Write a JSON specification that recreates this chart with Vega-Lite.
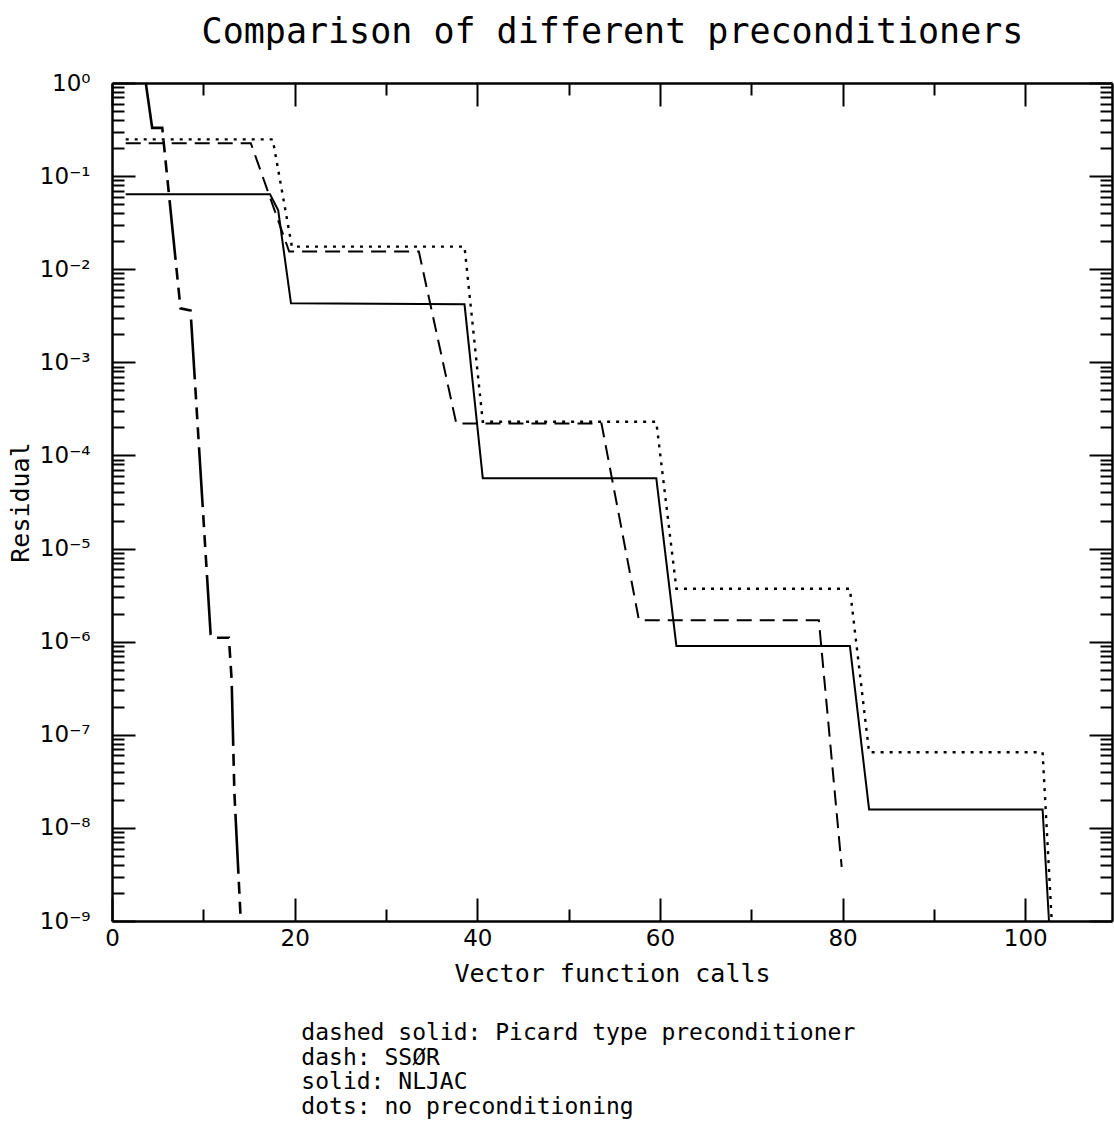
{
  "$schema": "https://vega.github.io/schema/vega-lite/v6.json",
  "autosize": {"type": "none"},
  "padding": {"left": 112, "top": 83, "right": 2, "bottom": 206},
  "width": 1000,
  "height": 838,
  "background": "white",
  "title": {
    "text": ["dashed solid: Picard type preconditioner", "dash: SSØR", "solid: NLJAC", "dots: no preconditioning"],
    "orient": "bottom",
    "anchor": "start",
    "align": "left",
    "dx": 293,
    "offset": 36,
    "font": "DejaVu Sans Mono",
    "fontSize": 23,
    "fontWeight": "normal",
    "lineHeight": 24.7,
    "color": "black"
  },
  "config": {
    "view": {"stroke": null},
    "axis": {
      "labelFont": "DejaVu Sans",
      "titleFont": "DejaVu Sans Mono",
      "labelColor": "black",
      "titleColor": "black",
      "domainColor": "black",
      "tickColor": "black",
      "domainWidth": 2.5,
      "tickWidth": 2,
      "grid": false,
      "labelOverlap": false,
      "labelFlush": false,
      "titleFontWeight": "normal"
    }
  },
  "data": {
    "values": [
      {"series": "Picard", "x": 3.7, "y": 1.0},
      {"series": "Picard", "x": 4.4, "y": 0.33},
      {"series": "Picard", "x": 5.5, "y": 0.33},
      {"series": "Picard", "x": 7.5, "y": 0.0038},
      {"series": "Picard", "x": 8.6, "y": 0.0036},
      {"series": "Picard", "x": 10.8, "y": 0.0000012},
      {"series": "Picard", "x": 11.0, "y": 0.0000011},
      {"series": "Picard", "x": 12.8, "y": 0.0000011},
      {"series": "Picard", "x": 13.1, "y": 0.00000039},
      {"series": "Picard", "x": 13.4, "y": 0.000000024},
      {"series": "Picard", "x": 14.1, "y": 0.000000001},

      {"series": "SSOR", "x": 1.5, "y": 0.226},
      {"series": "SSOR", "x": 15.2, "y": 0.226},
      {"series": "SSOR", "x": 19.4, "y": 0.0155},
      {"series": "SSOR", "x": 33.6, "y": 0.0155},
      {"series": "SSOR", "x": 37.7, "y": 0.00022},
      {"series": "SSOR", "x": 53.6, "y": 0.00022},
      {"series": "SSOR", "x": 57.7, "y": 0.0000017},
      {"series": "SSOR", "x": 77.4, "y": 0.0000017},
      {"series": "SSOR", "x": 79.9, "y": 0.0000000038},

      {"series": "NLJAC", "x": 1.5, "y": 0.064},
      {"series": "NLJAC", "x": 17.3, "y": 0.064},
      {"series": "NLJAC", "x": 18.2, "y": 0.043},
      {"series": "NLJAC", "x": 19.6, "y": 0.0043},
      {"series": "NLJAC", "x": 38.6, "y": 0.0042},
      {"series": "NLJAC", "x": 40.6, "y": 0.000057},
      {"series": "NLJAC", "x": 59.6, "y": 0.000057},
      {"series": "NLJAC", "x": 61.8, "y": 0.0000009},
      {"series": "NLJAC", "x": 80.8, "y": 0.0000009},
      {"series": "NLJAC", "x": 82.9, "y": 0.0000000158},
      {"series": "NLJAC", "x": 101.9, "y": 0.0000000158},
      {"series": "NLJAC", "x": 102.6, "y": 0.000000001},

      {"series": "None", "x": 1.5, "y": 0.248},
      {"series": "None", "x": 17.6, "y": 0.248},
      {"series": "None", "x": 19.7, "y": 0.0175},
      {"series": "None", "x": 38.6, "y": 0.0175},
      {"series": "None", "x": 40.6, "y": 0.00023},
      {"series": "None", "x": 59.6, "y": 0.00023},
      {"series": "None", "x": 61.8, "y": 0.0000037},
      {"series": "None", "x": 80.8, "y": 0.0000037},
      {"series": "None", "x": 82.9, "y": 0.000000065},
      {"series": "None", "x": 101.9, "y": 0.000000065},
      {"series": "None", "x": 102.9, "y": 0.000000001}
    ]
  },
  "resolve": {"scale": {"x": "shared", "y": "shared"}, "axis": {"x": "independent", "y": "independent"}},
  "layer": [
    {
      "transform": [{"filter": "datum.series === 'Picard'"}],
      "mark": {"type": "line", "color": "black", "strokeWidth": 2.6, "strokeDash": [60, 8, 12, 8, 12, 8, 12, 8], "clip": true},
      "encoding": {
        "x": {
          "field": "x", "type": "quantitative",
          "scale": {"domain": [0, 109.5], "nice": false, "zero": false},
          "axis": {
            "orient": "bottom",
            "values": [0, 10, 20, 30, 40, 50, 60, 70, 80, 90, 100],
            "labelExpr": "datum.value % 20 === 0 ? datum.label : ''",
            "tickSize": {"condition": {"test": "datum.value % 20 === 0", "value": -23}, "value": -12},
            "labelFontSize": 23,
            "labelPadding": 29,
            "title": "Vector function calls",
            "titleFontSize": 25,
            "titlePadding": 0
          }
        },
        "y": {
          "field": "y", "type": "quantitative",
          "scale": {"type": "log", "domain": [1e-9, 1], "nice": false},
          "axis": {
            "orient": "left",
            "values": [1e-9,2e-9,3e-9,4e-9,5e-9,6e-9,7e-9,8e-9,9e-9,
                       1e-8,2e-8,3e-8,4e-8,5e-8,6e-8,7e-8,8e-8,9e-8,
                       1e-7,2e-7,3e-7,4e-7,5e-7,6e-7,7e-7,8e-7,9e-7,
                       1e-6,2e-6,3e-6,4e-6,5e-6,6e-6,7e-6,8e-6,9e-6,
                       1e-5,2e-5,3e-5,4e-5,5e-5,6e-5,7e-5,8e-5,9e-5,
                       1e-4,2e-4,3e-4,4e-4,5e-4,6e-4,7e-4,8e-4,9e-4,
                       1e-3,2e-3,3e-3,4e-3,5e-3,6e-3,7e-3,8e-3,9e-3,
                       1e-2,2e-2,3e-2,4e-2,5e-2,6e-2,7e-2,8e-2,9e-2,
                       1e-1,2e-1,3e-1,4e-1,5e-1,6e-1,7e-1,8e-1,9e-1,1],
            "labelExpr": "abs(log(datum.value)/LN10 - round(log(datum.value)/LN10)) < 1e-6 ? '10' + ['⁰','⁻¹','⁻²','⁻³','⁻⁴','⁻⁵','⁻⁶','⁻⁷','⁻⁸','⁻⁹'][-round(log(datum.value)/LN10)] : ''",
            "tickSize": {"condition": {"test": "abs(log(datum.value)/LN10 - round(log(datum.value)/LN10)) < 1e-6", "value": -23}, "value": -12},
            "labelFontSize": 23,
            "labelPadding": 45,
            "title": "Residual",
            "titleFontSize": 25,
            "titlePadding": 6
          }
        }
      }
    },
    {
      "transform": [{"filter": "datum.series === 'SSOR'"}],
      "mark": {"type": "line", "color": "black", "strokeWidth": 2, "strokeDash": [15, 8], "clip": true},
      "encoding": {
        "x": {
          "field": "x", "type": "quantitative",
          "scale": {"domain": [0, 109.5], "nice": false, "zero": false},
          "axis": {
            "orient": "top",
            "values": [0, 10, 20, 30, 40, 50, 60, 70, 80, 90, 100],
            "labels": false,
            "tickSize": {"condition": {"test": "datum.value % 20 === 0", "value": -23}, "value": -12},
            "title": "Comparison of different preconditioners",
            "titleFontSize": 35,
            "titlePadding": 33
          }
        },
        "y": {
          "field": "y", "type": "quantitative",
          "scale": {"type": "log", "domain": [1e-9, 1], "nice": false},
          "axis": {
            "orient": "right",
            "values": [1e-9,2e-9,3e-9,4e-9,5e-9,6e-9,7e-9,8e-9,9e-9,
                       1e-8,2e-8,3e-8,4e-8,5e-8,6e-8,7e-8,8e-8,9e-8,
                       1e-7,2e-7,3e-7,4e-7,5e-7,6e-7,7e-7,8e-7,9e-7,
                       1e-6,2e-6,3e-6,4e-6,5e-6,6e-6,7e-6,8e-6,9e-6,
                       1e-5,2e-5,3e-5,4e-5,5e-5,6e-5,7e-5,8e-5,9e-5,
                       1e-4,2e-4,3e-4,4e-4,5e-4,6e-4,7e-4,8e-4,9e-4,
                       1e-3,2e-3,3e-3,4e-3,5e-3,6e-3,7e-3,8e-3,9e-3,
                       1e-2,2e-2,3e-2,4e-2,5e-2,6e-2,7e-2,8e-2,9e-2,
                       1e-1,2e-1,3e-1,4e-1,5e-1,6e-1,7e-1,8e-1,9e-1,1],
            "labels": false,
            "tickSize": {"condition": {"test": "abs(log(datum.value)/LN10 - round(log(datum.value)/LN10)) < 1e-6", "value": -23}, "value": -12},
            "title": null
          }
        }
      }
    },
    {
      "transform": [{"filter": "datum.series === 'NLJAC'"}],
      "mark": {"type": "line", "color": "black", "strokeWidth": 2, "clip": true},
      "encoding": {
        "x": {"field": "x", "type": "quantitative", "scale": {"domain": [0, 109.5], "nice": false, "zero": false}, "axis": null},
        "y": {"field": "y", "type": "quantitative", "scale": {"type": "log", "domain": [1e-9, 1], "nice": false}, "axis": null}
      }
    },
    {
      "transform": [{"filter": "datum.series === 'None'"}],
      "mark": {"type": "line", "color": "black", "strokeWidth": 2.4, "strokeDash": [3, 6], "clip": true},
      "encoding": {
        "x": {"field": "x", "type": "quantitative", "scale": {"domain": [0, 109.5], "nice": false, "zero": false}, "axis": null},
        "y": {"field": "y", "type": "quantitative", "scale": {"type": "log", "domain": [1e-9, 1], "nice": false}, "axis": null}
      }
    }
  ]
}
